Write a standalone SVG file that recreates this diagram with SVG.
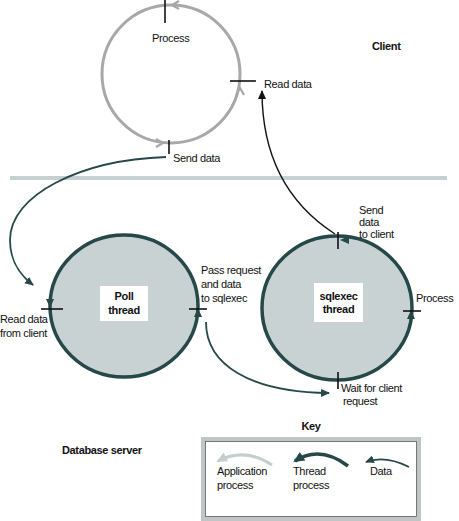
<svg xmlns="http://www.w3.org/2000/svg" width="459" height="521" viewBox="0 0 459 521">
<style>
text{font-family:"Liberation Sans",Arial,Helvetica,sans-serif;font-size:11px;letter-spacing:-0.35px;fill:#111}
.b{font-weight:bold}
.tick{stroke:#111;stroke-width:1.6;fill:none}
.thread{fill:#c9d2d2;stroke:#264848;stroke-width:3.5}
.lbl{fill:#fff;stroke:none}
.ah{fill:#264848}
.app{fill:none;stroke:#a8a8a8;stroke-width:2.2}
</style>
<defs>
<marker id="mData" markerWidth="10" markerHeight="10" refX="8" refY="5" orient="auto" markerUnits="userSpaceOnUse">
<path d="M0,1 L9,5 L0,9 Z" fill="#264848"/>
</marker>
<marker id="mBlack" markerWidth="10" markerHeight="10" refX="8" refY="5" orient="auto" markerUnits="userSpaceOnUse">
<path d="M0,1 L9,5 L0,9 Z" fill="#111"/>
</marker>
<marker id="mThread" markerWidth="12" markerHeight="12" refX="9" refY="6" orient="auto" markerUnits="userSpaceOnUse">
<path d="M0,1 L11,6 L0,11 Z" fill="#264848"/>
</marker>
<marker id="mApp" markerWidth="12" markerHeight="12" refX="9" refY="6" orient="auto" markerUnits="userSpaceOnUse">
<path d="M0,1 L11,6 L0,11 Z" fill="#c5cece"/>
</marker>
</defs>

<rect x="10" y="176" width="437" height="4" fill="#c5d0d0"/>

<g id="client-process">
<circle cx="171" cy="74" r="69" fill="none" stroke="#a8a8a8" stroke-width="3"/>
<polyline class="app" points="179,1 172,5 179,9"/>
<polyline class="app" points="236,95 240,88 244,95"/>
<polyline class="app" points="156,139 163,143 156,147"/>
<line class="tick" x1="165" y1="0" x2="165" y2="23" stroke-width="2.5"/>
<line class="tick" x1="230" y1="81" x2="256" y2="81"/>
<line class="tick" x1="169" y1="140" x2="169" y2="154"/>
<text x="152" y="42">Process</text>
<text x="264" y="88">Read data</text>
<text x="173" y="162">Send data</text>
<text class="b" x="372" y="50">Client</text>
</g>

<g id="poll-thread">
<ellipse class="thread" cx="124" cy="306" rx="74" ry="71"/>
<rect class="lbl" x="100" y="286" width="48" height="35"/>
<text class="b" x="124" y="300" text-anchor="middle">Poll</text>
<text class="b" x="124" y="314" text-anchor="middle">thread</text>
<polygon class="ah" points="46,299 54,299 50,308"/>
<polygon class="ah" points="194,317 202,317 198,308"/>
<line class="tick" x1="41" y1="309" x2="63" y2="309"/>
<line class="tick" x1="189" y1="309" x2="207" y2="309"/>
<text x="0" y="323">Read data</text>
<text x="0" y="337">from client</text>
<text x="201" y="274">Pass request</text>
<text x="201" y="288">and data</text>
<text x="201" y="302">to sqlexec</text>
</g>

<g id="sqlexec-thread">
<ellipse class="thread" cx="337" cy="308" rx="75" ry="72"/>
<rect class="lbl" x="314" y="283" width="49" height="39"/>
<text class="b" x="338.5" y="300" text-anchor="middle">sqlexec</text>
<text class="b" x="338.5" y="313" text-anchor="middle">thread</text>
<polygon class="ah" points="349,236 349,244 340,240"/>
<polygon class="ah" points="407,319 415,319 411,310"/>
<line class="tick" x1="338" y1="232" x2="338" y2="249"/>
<line class="tick" x1="403" y1="311" x2="421" y2="311"/>
<line class="tick" x1="338" y1="372" x2="338" y2="389"/>
<text x="359" y="214">Send</text>
<text x="359" y="226">data</text>
<text x="359" y="238">to client</text>
<text x="416" y="302">Process</text>
<text x="341" y="392">Wait for client</text>
<text x="343" y="405">request</text>
</g>

<g id="connectors" fill="none">
<path d="M166,157 C80,160 10,195 10,240 C10,262 20,275 33,285" stroke="#264848" stroke-width="1.8" marker-end="url(#mData)"/>
<path d="M206,322 C206,365 250,392 329,393" stroke="#264848" stroke-width="1.8" marker-end="url(#mData)"/>
<path d="M335,234 C290,205 262,160 262,91" stroke="#111" stroke-width="1.4" marker-end="url(#mBlack)"/>
</g>

<g id="database-server">
<text class="b" x="62" y="454">Database server</text>
</g>

<g id="key">
<text class="b" x="311" y="430" text-anchor="middle">Key</text>
<rect x="203" y="439" width="216" height="80" fill="#fff" stroke="#c0c6c6" stroke-width="4"/>
<rect x="205.5" y="441.5" width="211" height="75" fill="none" stroke="#555" stroke-width="0.8"/>
<path d="M272,465 Q245,447 218,461" fill="none" stroke="#c5cece" stroke-width="3" marker-end="url(#mApp)"/>
<path d="M348,466 Q320,445 295,461" fill="none" stroke="#264848" stroke-width="3.5" marker-end="url(#mThread)"/>
<path d="M409,467 Q385,455 366,462" fill="none" stroke="#264848" stroke-width="1.8" marker-end="url(#mData)"/>
<text x="217" y="475">Application</text>
<text x="217" y="489">process</text>
<text x="293" y="475">Thread</text>
<text x="293" y="489">process</text>
<text x="370" y="475">Data</text>
</g>
</svg>
